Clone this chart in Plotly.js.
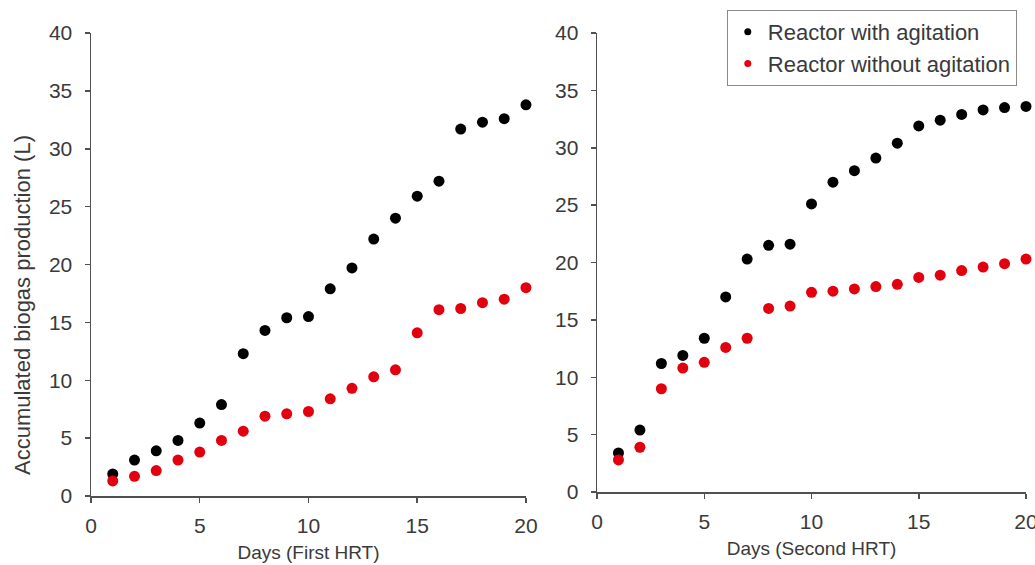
<!DOCTYPE html>
<html>
<head>
<meta charset="utf-8">
<script src="https://cdn.plot.ly/plotly-3.0.1.min.js"></script>
<style>html,body{margin:0;padding:0;background:#fff;}#chart{width:1035px;height:565px;}</style>
</head>
<body>
<div id="chart"></div>
<script>
// Data
const days = [1,2,3,4,5,6,7,8,9,10,11,12,13,14,15,16,17,18,19,20];
const firstWithAgitation = [1.9,3.1,3.9,4.8,6.3,7.9,12.3,14.3,15.4,15.5,17.9,19.7,22.2,24.0,25.9,27.2,31.7,32.3,32.6,33.8];
const firstWithoutAgitation = [1.3,1.7,2.2,3.1,3.8,4.8,5.6,6.9,7.1,7.3,8.4,9.3,10.3,10.9,14.1,16.1,16.2,16.7,17.0,18.0];
const secondWithAgitation = [3.4,5.4,11.2,11.9,13.4,17.0,20.3,21.5,21.6,25.1,27.0,28.0,29.1,30.4,31.9,32.4,32.9,33.3,33.5,33.6];
const secondWithoutAgitation = [2.8,3.9,9.0,10.8,11.3,12.6,13.4,16.0,16.2,17.4,17.5,17.7,17.9,18.1,18.7,18.9,19.3,19.6,19.9,20.3];
const seriesNames = ['Reactor with agitation','Reactor without agitation'];
const xTitles = ['Days (First HRT)','Days (Second HRT)'];
const yTitle = 'Accumulated biogas production (L)';

const BLACK = '#000000';
const RED = '#e2000f';
const FONT = 'Liberation Sans, Arial, sans-serif';
const TXT = '#3a3a3a';

function pts(x, y, color, xa, ya, name) {
  return {x: x, y: y, type: 'scatter', mode: 'markers', name: name, showlegend: false,
    xaxis: xa, yaxis: ya, cliponaxis: false,
    marker: {color: color, size: 11}, hoverinfo: 'x+y'};
}
function legendItem(color, name, group) {
  return {x: [null], y: [null], type: 'scatter', mode: 'markers', name: name,
    legendgroup: group, xaxis: 'x2', yaxis: 'y2',
    marker: {color: color, size: 7}};
}

const data = [
  pts(days, firstWithAgitation, BLACK, 'x', 'y', seriesNames[0]),
  pts(days, firstWithoutAgitation, RED, 'x', 'y', seriesNames[1]),
  pts(days, secondWithAgitation, BLACK, 'x2', 'y2', seriesNames[0]),
  pts(days, secondWithoutAgitation, RED, 'x2', 'y2', seriesNames[1]),
  legendItem(BLACK, seriesNames[0], 'a'),
  legendItem(RED, seriesNames[1], 'b')
];

function xaxisDef(domain, anchor, title) {
  return {domain: domain, anchor: anchor, range: [0, 20], dtick: 5, tick0: 0,
    showline: true, linecolor: '#505050', linewidth: 1.5, ticks: 'outside', ticklen: 5,
    tickcolor: '#505050', tickwidth: 1.5, showgrid: false, zeroline: false,
    tickfont: {family: FONT, size: 21, color: TXT}, ticklabelstandoff: 5,
    ticklabeloverflow: 'allow',
    title: {text: title, font: {family: FONT, size: 19, color: TXT}, standoff: 10}, fixedrange: true};
}
function yaxisDef(domain, anchor) {
  return {domain: domain, anchor: anchor, range: [0, 40], dtick: 5, tick0: 0,
    showline: true, linecolor: '#505050', linewidth: 1.5, ticks: 'outside', ticklen: 5,
    tickcolor: '#505050', tickwidth: 1.5, showgrid: false, zeroline: false,
    tickfont: {family: FONT, size: 21, color: TXT}, ticklabelstandoff: 8,
    ticklabeloverflow: 'allow', fixedrange: true};
}

const layout = {
  width: 1035, height: 565,
  margin: {l: 91, r: 9, t: 33, b: 69, pad: 0},
  paper_bgcolor: '#ffffff', plot_bgcolor: '#ffffff',
  font: {family: FONT, color: TXT},
  showlegend: true,
  xaxis: xaxisDef([0, 0.4652], 'y', xTitles[0]),
  yaxis: yaxisDef([0, 1], 'x'),
  xaxis2: xaxisDef([0.5412, 1], 'y2', xTitles[1]),
  yaxis2: yaxisDef([0.0086, 1], 'x2'),
  annotations: [{
    text: yTitle, textangle: -90, xref: 'paper', yref: 'paper',
    x: -0.0738, y: 0.4125, xanchor: 'center', yanchor: 'middle', showarrow: false,
    font: {family: FONT, size: 22, color: TXT}
  }],
  legend: {x: 0.680, y: 1.0497, xanchor: 'left', yanchor: 'top',
    bgcolor: '#ffffff', bordercolor: '#8a8a8a', borderwidth: 1,
    font: {family: FONT, size: 22, color: TXT}, traceorder: 'grouped', tracegroupgap: 0,
    itemwidth: 30},
  hovermode: 'closest'
};

Plotly.newPlot('chart', data, layout, {displayModeBar: false, staticPlot: true});
</script>
</body>
</html>
